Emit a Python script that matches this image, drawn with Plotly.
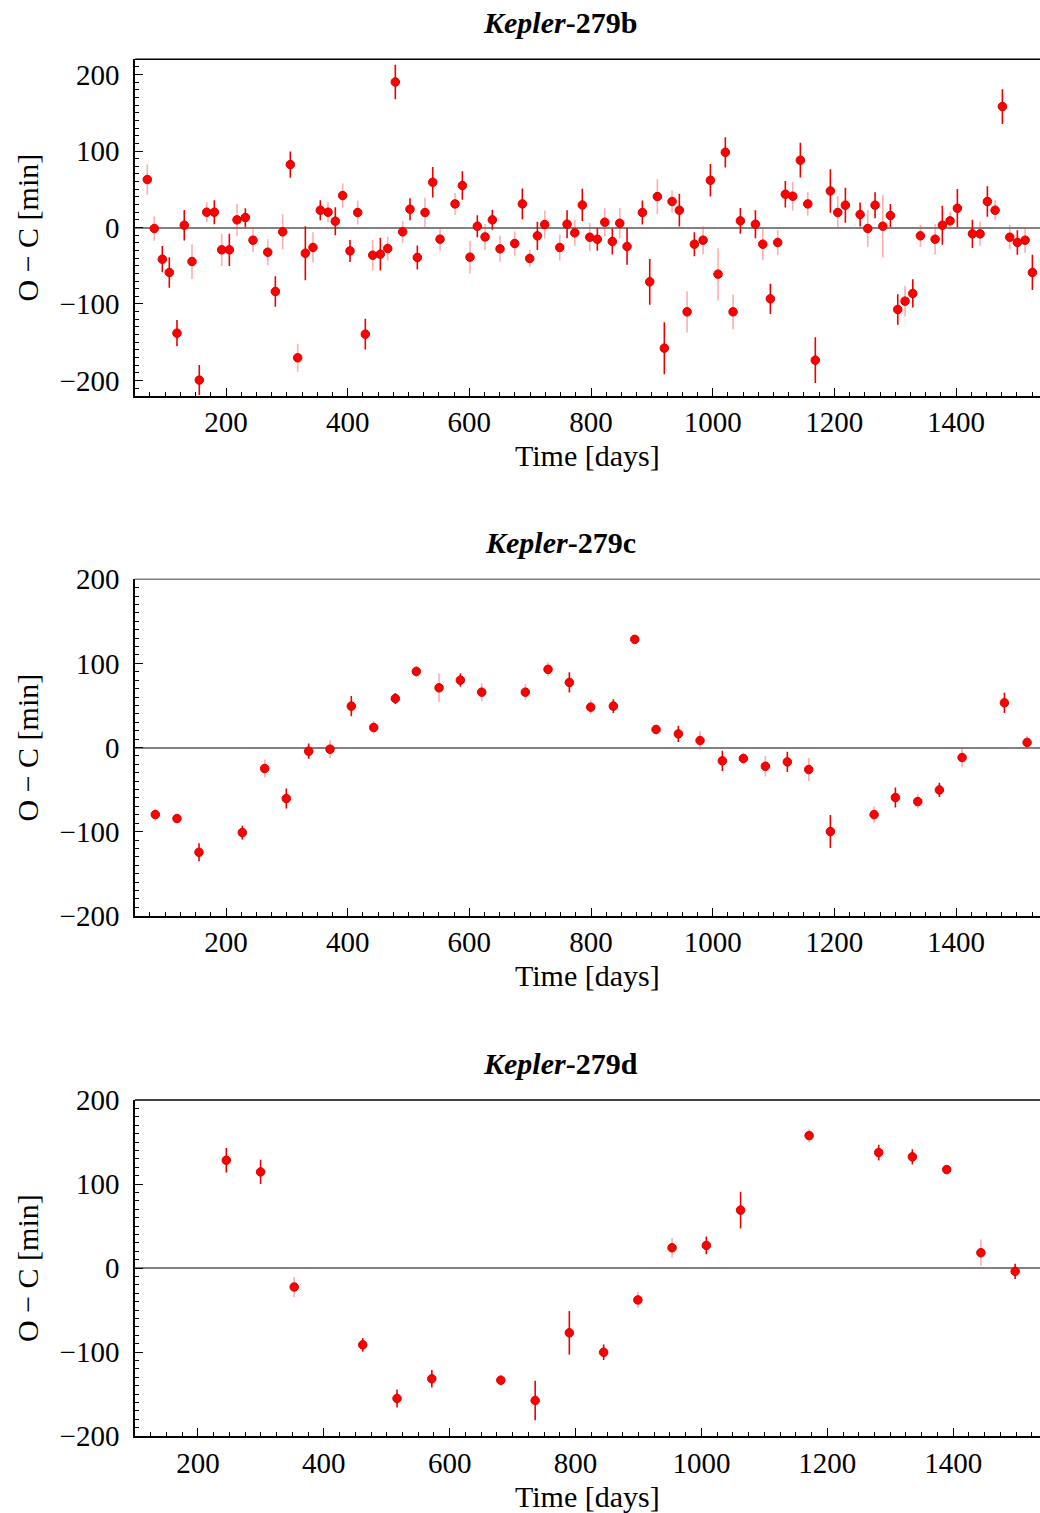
import plotly.graph_objects as go

# ---------------- data ----------------
planet_names = ["Kepler-279b", "Kepler-279c", "Kepler-279d"]

b_time = [70.6, 82.1, 95.3, 106.8, 119.4, 131.4, 144.1, 156.1, 168.3, 180.8,
          192.9, 205.5, 218.1, 231.8, 244.4, 268.6, 281.1, 293.2, 305.7, 317.8,
          330.4, 343.0, 355.0, 367.7, 379.7, 391.8, 403.8, 416.5, 429.0, 441.1,
          453.7, 465.8, 478.3, 490.4, 502.4, 514.5, 527.1, 539.8, 551.8, 576.5,
          588.5, 601.1, 613.1, 625.8, 637.8, 650.4, 674.6, 687.1, 699.2, 711.8,
          723.9, 748.6, 760.6, 773.3, 785.7, 797.9, 810.4, 822.6, 835.0, 847.2,
          859.2, 884.4, 896.5, 909.0, 920.5, 933.2, 945.2, 957.9, 969.9, 984.2,
          996.2, 1008.8, 1020.8, 1033.5, 1045.5, 1070.2, 1082.3, 1094.8, 1106.9, 1119.4,
          1131.6, 1144.1, 1156.3, 1168.7, 1193.4, 1205.6, 1218.1, 1242.3, 1254.9, 1266.9,
          1279.6, 1292.1, 1304.2, 1316.2, 1328.9, 1341.4, 1365.6, 1377.5, 1390.2, 1402.2,
          1426.9, 1439.5, 1451.5, 1464.2, 1476.2, 1488.3, 1500.8, 1513.5, 1525.5]
b_oc = [62.7, -1.3, -41.4, -58.8, -138.2, 3.0, -44.5, -199.6, 20.0, 20.0,
        -29.2, -29.2, 10.0, 13.0, -16.6, -32.3, -83.7, -5.7, 82.3, -170.4,
        -33.6, -26.1, 22.6, 20.0, 8.2, 41.8, -30.6, 19.6, -139.5, -36.2,
        -34.9, -27.5, 190.3, -5.7, 23.9, -39.2, 19.6, 59.2, -15.3, 30.9,
        54.9, -38.8, 1.7, -12.3, 10.0, -27.9, -20.9, 30.9, -40.5, -10.9,
        3.9, -26.1, 4.3, -7.0, 29.5, -12.7, -15.3, 6.9, -18.3, 5.6,
        -24.8, 19.6, -71.1, 40.5, -157.8, 34.0, 22.6, -110.3, -21.8, -16.6,
        61.8, -61.0, 98.4, -110.3, 8.7, 4.3, -21.8, -93.3, -19.6, 43.5,
        40.9, 88.0, 30.9, -173.5, 47.8, 19.6, 29.2, 17.0, -1.3, 29.2,
        1.7, 15.7, -107.2, -96.3, -86.3, -10.9, -15.3, 3.0, 8.7, 25.2,
        -8.3, -8.3, 34.0, 22.6, 158.2, -12.7, -19.6, -16.6, -58.8]
b_err = [19.6, 15.9, 17.2, 20.0, 17.2, 20.0, 22.7, 19.6, 12.9, 15.7,
         21.0, 21.0, 20.9, 12.2, 15.5, 17.0, 20.0, 22.9, 17.2, 18.3,
         35.3, 19.8, 13.1, 12.9, 18.3, 15.7, 14.4, 15.7, 20.0, 20.0,
         21.4, 15.5, 22.7, 14.2, 14.4, 15.7, 19.4, 20.0, 15.3, 14.2,
         18.7, 21.4, 14.4, 17.0, 13.1, 17.0, 15.7, 20.0, 11.3, 18.5,
         18.3, 17.0, 18.3, 17.0, 21.1, 18.5, 15.0, 18.3, 17.0, 19.8,
         24.0, 15.7, 30.0, 22.7, 34.0, 14.4, 21.4, 27.0, 15.7, 18.3,
         21.4, 34.4, 19.8, 22.7, 16.8, 18.3, 20.3, 19.8, 15.9, 17.2,
         18.7, 22.7, 15.5, 29.8, 28.5, 21.4, 22.9, 15.7, 24.2, 17.0,
         41.0, 15.0, 20.0, 20.0, 18.5, 14.4, 20.0, 25.5, 11.8, 25.0,
         18.5, 15.7, 19.8, 13.1, 22.7, 15.9, 16.1, 16.3, 23.1]
b_set = [2, 2, 1, 1, 1, 1, 2, 1, 2, 1,
         2, 1, 2, 1, 2, 2, 1, 2, 1, 2,
         1, 2, 1, 2, 1, 2, 1, 2, 1, 2,
         1, 2, 1, 2, 1, 1, 2, 1, 2, 2,
         1, 2, 1, 2, 1, 2, 2, 1, 2, 1,
         2, 2, 1, 2, 1, 2, 1, 2, 1, 2,
         1, 1, 1, 2, 1, 2, 1, 2, 1, 2,
         1, 2, 1, 2, 1, 1, 2, 1, 2, 1,
         2, 1, 2, 1, 1, 2, 1, 1, 2, 1,
         2, 1, 1, 2, 1, 2, 2, 1, 2, 1,
         1, 2, 1, 2, 1, 2, 1, 2, 1]

c_time = [83.8, 119.4, 155.6, 226.8, 263.6, 299.1, 335.9, 371.0, 406.0, 442.8,
          478.3, 512.8, 550.2, 585.2, 620.3, 692.0, 729.3, 764.4, 799.5, 836.7,
          871.9, 906.9, 943.6, 979.2, 1015.9, 1050.4, 1086.6, 1122.7, 1157.9, 1193.4,
          1265.3, 1300.3, 1337.1, 1372.6, 1409.9, 1479.5, 1516.8]
c_oc = [-79.8, -84.5, -124.6, -101.2, -25.0, -60.7, -4.4, -2.0, 49.2, 23.8,
        58.3, 90.5, 71.0, 80.1, 65.8, 65.8, 92.9, 77.4, 48.0, 49.2,
        128.6, 21.4, 16.2, 8.3, -15.9, -13.1, -22.3, -17.1, -26.2, -100.0,
        -79.8, -59.5, -64.3, -50.5, -11.9, 53.1, 6.0]
c_err = [7.3, 5.4, 10.7, 8.1, 10.7, 11.9, 9.1, 10.5, 11.9, 7.7,
         6.5, 6.7, 16.9, 7.9, 10.5, 9.3, 8.1, 12.1, 8.3, 8.3,
         3.0, 5.6, 9.7, 10.9, 11.9, 7.1, 12.1, 12.1, 13.7, 19.6,
         9.7, 11.9, 8.3, 8.5, 11.7, 12.1, 7.9]
c_set = [2, 2, 1, 1, 2, 1, 1, 2, 1, 2,
         1, 2, 2, 1, 2, 2, 2, 1, 2, 1,
         1, 2, 1, 2, 1, 2, 2, 1, 2, 1,
         2, 1, 2, 1, 2, 1, 2]

d_time = [245.0, 299.5, 352.9, 461.8, 516.3, 571.6, 681.2, 735.8, 790.1, 844.6,
          899.0, 953.3, 1007.8, 1062.2, 1171.1, 1281.7, 1335.2, 1389.8, 1444.1, 1498.5]
d_oc = [128.3, 114.4, -22.6, -91.5, -155.3, -131.9, -133.6, -157.7, -77.2, -100.3,
        -38.0, 24.1, 26.9, 68.9, 157.6, 137.4, 132.3, 117.2, 18.2, -4.0]
d_err = [14.7, 14.5, 11.9, 8.1, 10.7, 10.5, 6.9, 23.6, 25.9, 9.3,
         9.3, 11.7, 10.5, 21.8, 7.9, 9.3, 9.1, 5.2, 15.6, 9.1]
d_set = [1, 1, 2, 1, 1, 1, 2, 1, 1, 1,
         2, 2, 1, 1, 2, 1, 1, 2, 2, 1]

x_ticks = [200, 400, 600, 800, 1000, 1200, 1400]
y_ticks = [-200, -100, 0, 100, 200]

# ---------------- layout geometry ----------------
W, H = 1040, 1513
FONT = "Liberation Serif"
x_left = 135 / W
panels = [
    dict(top=59.3, bottom=395.7, xr=[50.4, 1538], yr=[-220, 220], topcol="black"),
    dict(top=579.3, bottom=915.7, xr=[50.4, 1538], yr=[-200, 200], topcol="#7f7f7f"),
    dict(top=1100.0, bottom=1436.0, xr=[99.9, 1538], yr=[-200, 200], topcol="black"),
]
data = [
    (b_time, b_oc, b_err, b_set),
    (c_time, c_oc, c_err, c_set),
    (d_time, d_oc, d_err, d_set),
]
err_colors = {1: "rgba(235,0,0,1)", 2: "rgba(255,60,60,0.42)"}

fig = go.Figure()
annotations = []
shapes = []

for k, (p, (t, oc, er, st)) in enumerate(zip(panels, data)):
    sfx = "" if k == 0 else str(k + 1)
    ydom = [1 - p["bottom"] / H, 1 - p["top"] / H]
    for grp in (2, 1):
        idx = [i for i, g in enumerate(st) if g == grp]
        fig.add_trace(go.Scatter(
            x=[t[i] for i in idx], y=[oc[i] for i in idx],
            mode="markers",
            marker=dict(color="#ff0000", size=8.5, line=dict(color="#d40000", width=1)),
            error_y=dict(type="data", array=[er[i] for i in idx], color=err_colors[grp],
                         thickness=1.6, width=0),
            xaxis="x" + sfx, yaxis="y" + sfx, showlegend=False, cliponaxis=False,
        ))
    axis_common = dict(showline=True, linecolor="black", linewidth=1.5, mirror=False,
                       ticks="inside", ticklen=8, tickwidth=1.2, tickcolor="black",
                       showgrid=False, automargin=False,
                       tickfont=dict(family=FONT, size=29, color="black"))
    fig.layout["xaxis" + sfx] = dict(
        domain=[x_left, 1.0], range=p["xr"], anchor="y" + sfx,
        tickvals=x_ticks, zeroline=False, ticklabelstandoff=0,
        minor=dict(ticks="inside", dtick=25, tick0=0, ticklen=4, tickcolor="black",
                   tickwidth=1, showgrid=False),
        **axis_common)
    fig.layout["yaxis" + sfx] = dict(
        domain=ydom, range=p["yr"], anchor="x" + sfx,
        tickvals=y_ticks, zeroline=True, zerolinecolor="#808080", zerolinewidth=2.2,
        ticklabelstandoff=8,
        minor=dict(ticks="inside", dtick=10, tick0=0, ticklen=4, tickcolor="black",
                   tickwidth=1, showgrid=False),
        **axis_common)
    # top spine
    shapes.append(dict(type="line", xref="paper", yref="paper", x0=x_left, x1=1.0,
                       y0=ydom[1], y1=ydom[1], line=dict(color=p["topcol"], width=1.5)))
    # panel title
    name = planet_names[k]
    annotations.append(dict(
        text="<b><i>" + name.split("-")[0] + "</i>-" + name.split("-")[1] + "</b>",
        x=560 / W, y=1 - (p["top"] - 37) / H, xref="paper", yref="paper",
        xanchor="center", yanchor="middle", showarrow=False,
        font=dict(family=FONT, size=30, color="black")))
    # x-axis title
    annotations.append(dict(
        text="Time [days]", x=(135 + 1040) / 2 / W, y=1 - (p["bottom"] + 60) / H,
        xref="paper", yref="paper", xanchor="center", yanchor="middle", showarrow=False,
        font=dict(family=FONT, size=30, color="black")))
    # y-axis title
    annotations.append(dict(
        text="O − C [min]", x=27 / W, y=(ydom[0] + ydom[1]) / 2,
        xref="paper", yref="paper", xanchor="center", yanchor="middle", showarrow=False,
        textangle=-90, font=dict(family=FONT, size=30, color="black")))

fig.update_layout(
    width=W, height=H,
    margin=dict(l=0, r=0, t=0, b=0),
    paper_bgcolor="white", plot_bgcolor="white",
    annotations=annotations, shapes=shapes,
    font=dict(family=FONT, color="black"),
)

fig.write_html("out.html")
